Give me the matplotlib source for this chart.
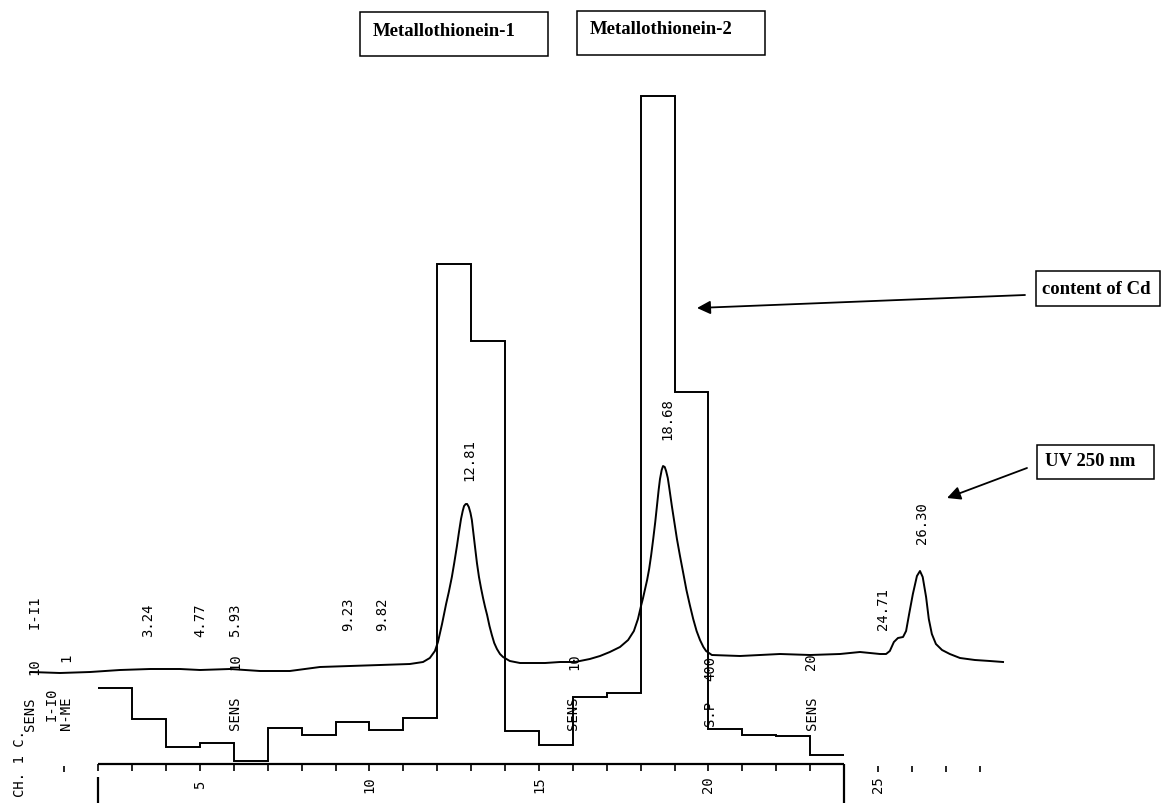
import matplotlib.pyplot as plt
from matplotlib.patches import Rectangle

# UV 250 nm detector trace (time in min, signal in chart units)
uv_time = [0.0, 0.87, 1.76, 2.64, 3.53, 4.41, 5.00, 5.89, 6.77, 7.65, 8.54, 9.42,
           10.31, 11.19, 11.58, 11.78, 11.93, 12.02, 12.08, 12.14, 12.20, 12.26,
           12.34, 12.43, 12.50, 12.58, 12.64, 12.70, 12.75, 12.79, 12.84, 12.88,
           12.93, 12.98, 13.02, 13.11, 13.17, 13.23, 13.29, 13.35, 13.41, 13.47,
           13.54, 13.61, 13.68, 13.76, 13.85, 13.94, 14.14, 14.44, 15.18, 15.62,
           16.06, 16.50, 16.80, 17.09, 17.39, 17.63, 17.80, 17.92, 18.01, 18.07,
           18.13, 18.19, 18.25, 18.31, 18.37, 18.43, 18.48, 18.53, 18.57, 18.62,
           18.66, 18.71, 18.75, 18.80, 18.84, 18.92, 19.07, 19.16, 19.25, 19.35,
           19.45, 19.55, 19.65, 19.75, 19.85, 19.93, 20.10, 20.93, 22.11, 23.00,
           23.88, 24.47, 25.06, 25.24, 25.35, 25.47, 25.59, 25.74, 25.83, 25.92,
           26.03, 26.15, 26.24, 26.32, 26.42, 26.50, 26.59, 26.71, 26.89, 27.12,
           27.42, 27.86, 28.30, 28.69]
uv_signal = [131, 130, 131, 133, 134, 134, 133, 134, 132, 132, 136, 137,
             138, 139, 141, 145, 152, 161, 170, 179, 189, 199,
             211, 226, 240, 257, 271, 284, 292, 297, 299, 299,
             296, 290, 283, 257, 240, 226, 215, 205, 196, 188,
             177, 168, 160, 154, 149, 146, 142, 140, 140, 141,
             141, 144, 147, 151, 156, 163, 172, 184, 197, 205,
             214, 223, 234, 248, 264, 281, 297, 313, 324, 333,
             337, 336, 332, 325, 316, 297, 264, 247, 231, 213,
             198, 184, 172, 163, 156, 152, 148, 147, 149, 148,
             149, 151, 149, 149, 152, 161, 165, 166, 172, 189,
             209, 227, 232, 226, 206, 184, 169, 159, 153, 149,
             145, 143, 142, 141]

# Cd content of the 1-min fractions (chart units above the time ruler)
fraction_edges = list(range(2, 25))
cd_content = [76, 45, 17, 21, 3, 36, 29, 42, 34, 46, 500, 423,
              33, 19, 67, 71, 668, 372, 35, 29, 28, 9]

# retention times printed by the integrator
rt_labels = ["3.24", "4.77", "5.93", "9.23", "9.82", "12.81", "18.68", "24.71", "26.30"]
rt_pos = [3.47, 5.00, 6.03, 9.37, 10.37, 12.94, 18.78, 25.15, 26.30]
rt_height = [184, 184, 184, 190, 190, 344, 385, 195, 281]

axis_ticks = [5, 10, 15, 20, 25]

W, H = 1161, 804
ruler = 39
mono = "DejaVu Sans Mono"


def px(x, y):
    return x / W, 1 - y / H


fig = plt.figure(figsize=(W / 100, H / 100), dpi=100)
ax = fig.add_axes([0, 0, 1, 1])
ax.set_xlim(-0.9, 33.35)
ax.set_ylim(0, H)
ax.axis("off")

# traces
ax.plot(uv_time, uv_signal, color="black", lw=1.4)
ax.stairs([c + ruler for c in cd_content], fraction_edges, baseline=None,
          color="black", lw=1.4)

# time ruler
ax.hlines(ruler, fraction_edges[0], fraction_edges[-1], color="black", lw=1.6)
ax.vlines(fraction_edges, ruler - 7, ruler, color="black", lw=1.2)
ax.vlines([1, 25, 26, 27, 28], ruler - 8, ruler - 2, color="black", lw=1.2)
ax.vlines(fraction_edges[0], 0, ruler - 13, color="black", lw=1.6)
ax.vlines(fraction_edges[-1], 0, ruler, color="black", lw=1.6)
for t in axis_ticks:
    ax.text(t, 19, str(t), rotation=90, ha="center", va="center",
            family=mono, fontsize=10)

# retention time labels
for lab, t, h in zip(rt_labels, rt_pos, rt_height):
    ax.text(t, h, lab, rotation=90, ha="center", va="center",
            family=mono, fontsize=10)

# printer event marks
events = [("CH. 1 C.", 20, 764), ("SENS", 30, 714), ("10", 34, 667),
          ("I-I1", 35, 612), ("I-I0", 52, 704), ("N-ME", 66, 713), ("1", 66, 658),
          ("10", 235, 662), ("SENS", 235, 713),
          ("10", 574, 662), ("SENS", 573, 713),
          ("400", 710, 668), ("S.P", 710, 713),
          ("20", 811, 662), ("SENS", 812, 713)]
for s, x, y in events:
    fig.text(*px(x, y), s, rotation=90, ha="center", va="center",
             family=mono, fontsize=10)

# boxed captions
boxes = [("Metallothionein-1", 360, 13, 188, 44, 373, 31),
         ("Metallothionein-2", 577, 12, 188, 44, 590, 29),
         ("content of Cd", 1036, 272, 124, 35, 1042, 290),
         ("UV 250 nm", 1037, 446, 117, 34, 1045, 462)]
for s, bx, by, bw, bh, tx, ty in boxes:
    x0, y0 = px(bx, by + bh)
    fig.patches.append(Rectangle((x0, y0), bw / W, bh / H, transform=fig.transFigure,
                                 fill=False, ec="black", lw=1.1))
    fig.text(*px(tx, ty), s, ha="left", va="center", family="Liberation Serif",
             fontweight="bold", fontsize=13.5)

# arrows
arrows = [((1025, 296), (697, 309)), ((1027, 469), (947, 499))]
for start, end in arrows:
    ax.annotate("", xy=px(*end), xycoords="figure fraction",
                xytext=px(*start), textcoords="figure fraction",
                arrowprops=dict(arrowstyle="-|>", color="black", lw=1.3,
                                mutation_scale=20, shrinkA=0, shrinkB=0))

fig.savefig("out.png", dpi=100, facecolor="white")
